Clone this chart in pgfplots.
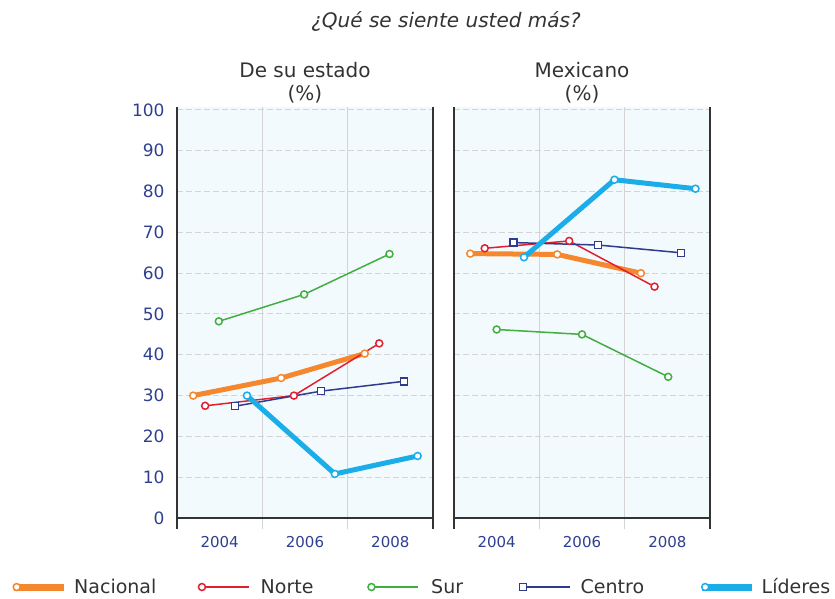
\documentclass[border=0pt]{standalone}
\usepackage{fontspec}
\setmainfont{DejaVu Sans}
\usepackage{pgfplots}
\pgfplotsset{compat=1.18}
\definecolor{cNac}{HTML}{F5882E}
\definecolor{cNor}{HTML}{E0202F}
\definecolor{cSur}{HTML}{3FAF3F}
\definecolor{cCen}{HTML}{2E3B8E}
\definecolor{cLid}{HTML}{1AADE8}
\definecolor{bgblue}{HTML}{F3FAFE}
\definecolor{axisgray}{HTML}{333333}
\definecolor{gridgray}{HTML}{D4D4D4}
\definecolor{ticknavy}{HTML}{2E3F8F}
\definecolor{txtgray}{HTML}{333333}
\tikzset{
  serthin/.style={color=#1, line width=1.5pt, mark=*, mark size=3.5pt, mark options={fill=white, line width=1.5pt, solid}},
  serthick/.style={color=#1, line width=5pt, mark=*, mark size=3.5pt, mark options={fill=white, line width=1.5pt, solid}},
}
\pgfplotsset{
  panel/.style={
    scale only axis, width=256pt, height=411.3pt, anchor=south west,
    xmin=0, xmax=3, ymin=0, ymax=100.8,
    axis x line=bottom, axis y line=box,
    axis line style={draw=axisgray, line width=1.5pt, -},
    axis background/.style={fill=bgblue},
    tick align=outside,
    xtick={0.5,1.5,2.5}, xticklabels={2004,2006,2008},
    major tick length=0pt,
    minor xtick={1,2}, xminorgrids, minor tick length=11pt,
    minor tick style={gridgray, line width=1.2pt},
    minor grid style={gridgray, line width=1.2pt},
    extra x ticks={0,3}, extra x tick labels={},
    extra x tick style={major tick length=11pt, tick style={axisgray, line width=1.5pt}, grid=none},
    ytick={0,10,...,100}, ymajorgrids,
    major grid style={gridgray, line width=1pt, dash pattern=on 6pt off 3pt},
    xticklabel style={font=\fontsize{15}{18}\selectfont, text=ticknavy, yshift=-15pt},
    yticklabel style={font=\fontsize{17}{20}\selectfont, text=ticknavy, xshift=-9pt},
    /pgf/number format/assume math mode=true,
    clip=false,
    legend image code/.code={
      \draw[##1, mark=none] (0pt,0pt) -- (50pt,0pt);
      \draw[##1] plot coordinates {(3pt,0pt)};
    },
  },
}
\begin{document}
\begin{tikzpicture}
\path[use as bounding box] (0pt,0pt) rectangle (835pt,-598pt);

\node[font=\fontsize{20}{24}\selectfont\itshape, text=txtgray] at (446pt,-21pt) {¿Qué se siente usted más?};
\node[font=\fontsize{20}{24}\selectfont, text=txtgray] at (305pt,-70pt) {De su estado};
\node[font=\fontsize{20}{24}\selectfont, text=txtgray] at (305pt,-94pt) {(\%)};
\node[font=\fontsize{20}{24}\selectfont, text=txtgray] at (582pt,-70pt) {Mexicano};
\node[font=\fontsize{20}{24}\selectfont, text=txtgray] at (582pt,-94pt) {(\%)};

\begin{axis}[panel, at={(177pt,-518pt)},
  legend columns=5,
  legend style={at={(-0.6523,-0.1678)}, anchor=west, draw=none, fill=none,
    inner sep=0pt, nodes={inner sep=0pt},
    font=\fontsize{19}{22}\selectfont, text=txtgray,
    /tikz/every even column/.style={column sep=0pt}},
]
\addplot[serthick=cNac, legend image post style={line width=7pt}] coordinates {(0.19,30.0) (1.22,34.3) (2.20,40.3)};
\addlegendentry{\hspace{7pt}\makebox[124pt][l]{Nacional}}
\addplot[serthin=cNor] coordinates {(0.33,27.5) (1.37,30.0) (2.37,42.8)};
\addlegendentry{\hspace{11pt}\makebox[107pt][l]{Norte}}
\addplot[serthin=cSur] coordinates {(0.49,48.2) (1.49,54.8) (2.49,64.7)};
\addlegendentry{\hspace{12pt}\makebox[88pt][l]{Sur}}
\addplot[serthin=cCen, mark=square*] coordinates {(0.68,27.4) (1.69,31.1) (2.66,33.5)};
\addlegendentry{\hspace{10pt}\makebox[118pt][l]{Centro}}
\addplot[serthick=cLid, legend image post style={line width=7pt}] coordinates {(0.82,30.0) (1.85,10.8) (2.82,15.2)};
\addlegendentry{\hspace{6pt}Líderes}
\end{axis}

\begin{axis}[panel, at={(454pt,-518pt)}, yticklabels={}]
\addplot[serthick=cNac] coordinates {(0.19,64.8) (1.21,64.6) (2.19,60.0)};
\addplot[serthin=cNor] coordinates {(0.36,66.1) (1.35,67.9) (2.35,56.7)};
\addplot[serthin=cSur] coordinates {(0.50,46.2) (1.50,45.0) (2.51,34.6)};
\addplot[serthin=cCen, mark=square*] coordinates {(0.70,67.5) (1.69,66.9) (2.66,65.0)};
\addplot[serthick=cLid] coordinates {(0.82,63.9) (1.88,82.9) (2.83,80.7)};
\end{axis}
\end{tikzpicture}
\end{document}
